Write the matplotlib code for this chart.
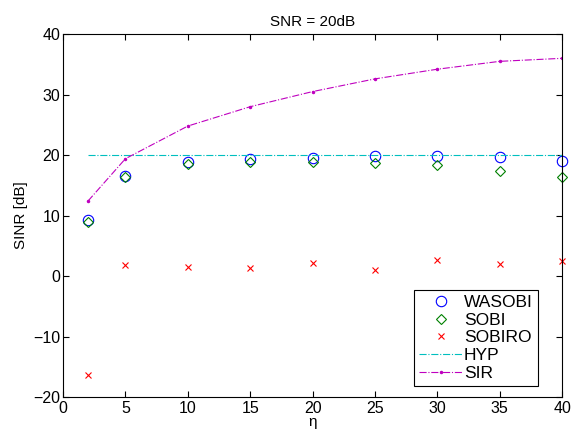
import matplotlib
matplotlib.use("Agg")
import matplotlib.pyplot as plt

plt.rcParams['font.family'] = ['Liberation Sans', 'DejaVu Sans']

eta = [2, 5, 10, 15, 20, 25, 30, 35, 40]
wasobi = [9.3, 16.5, 18.8, 19.3, 19.6, 19.8, 19.8, 19.7, 19.0]
sobi = [8.9, 16.4, 18.6, 18.9, 18.8, 18.7, 18.3, 17.3, 16.4]
sobiro = [-16.3, 1.9, 1.5, 1.3, 2.2, 1.0, 2.6, 2.0, 2.5]
hyp = [20, 20, 20, 20, 20, 20, 20, 20, 20]
sir = [12.4, 19.4, 24.8, 28.0, 30.5, 32.6, 34.2, 35.5, 36.0]

fig = plt.figure(figsize=(5.73, 4.32), dpi=100)
ax = fig.add_axes([0.110, 0.081, 0.871, 0.840])

ax.plot(eta, wasobi, 'o', mfc='none', mec='blue', ms=7.5, mew=0.8, label='WASOBI', clip_on=False)
ax.plot(eta, sobi, 'D', mfc='none', mec='green', ms=5.5, mew=0.8, label='SOBI', clip_on=False)
ax.plot(eta, sobiro, 'x', color='red', ms=5, mew=0.8, label='SOBIRO', clip_on=False)
ax.plot(eta, hyp, '-.', color=(0, 0.75, 0.75), lw=0.8, label='HYP')
ax.plot(eta, sir, '.-.', color=(0.75, 0, 0.75), lw=0.8, ms=3, label='SIR')

ax.set_xlim(0, 40)
ax.set_ylim(-20, 40)
ax.set_xticks(range(0, 41, 5))
ax.set_yticks(range(-20, 41, 10))
ax.set_yticklabels(['\u221220', '\u221210', '0', '10', '20', '30', '40'])
ax.tick_params(direction='in', top=True, right=True, labelsize=11.5, length=4)
ax.tick_params(axis='y', pad=2)
ax.tick_params(axis='x', pad=3)
ax.set_title('SNR = 20dB', fontsize=11)
ax.set_xlabel('\u03b7', fontsize=11, labelpad=-1)
ax.set_ylabel('SINR [dB]', fontsize=11, labelpad=4)

leg = ax.legend(loc='lower right', bbox_to_anchor=(0.952, 0.030), borderaxespad=0,
                fontsize=12.5, fancybox=False, edgecolor='black', framealpha=1,
                handlelength=2.5, labelspacing=0.15, borderpad=0.3, handletextpad=0.1)
leg.get_frame().set_linewidth(0.8)

fig.savefig('out.png', dpi=100)
